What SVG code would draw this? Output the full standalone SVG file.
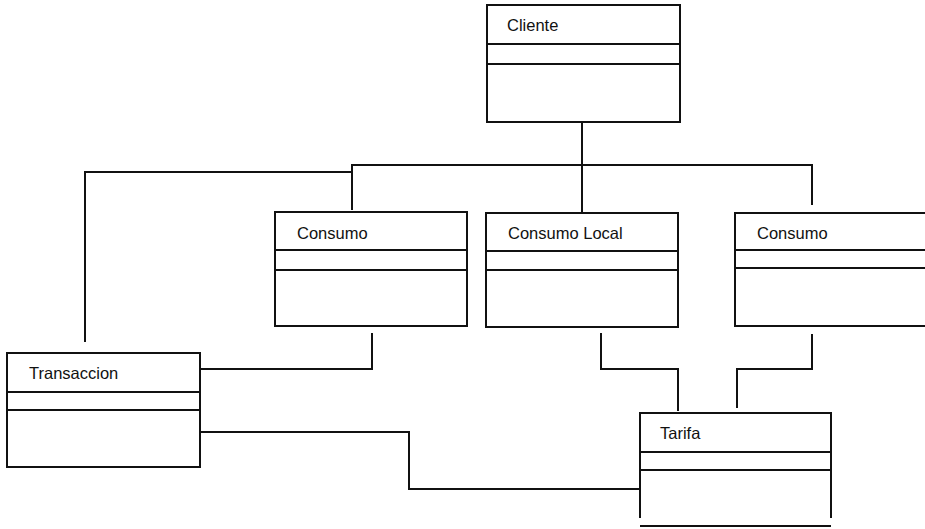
<svg xmlns="http://www.w3.org/2000/svg" width="925" height="529" viewBox="0 0 925 529">
<style>
.box{fill:#fff;stroke:#111;stroke-width:2}
.ln{fill:none;stroke:#111;stroke-width:2}
.t{font-family:"Liberation Sans",Arial,sans-serif;font-size:16.5px;fill:#111}
</style>
<rect width="925" height="529" fill="#fff"/>
<g id="connectors">
<polyline class="ln" points="582,122 582,165"/>
<polyline class="ln" points="85,342 85,172 352,172"/>
<polyline class="ln" points="352,210 352,165 812,165 812,205"/>
<polyline class="ln" points="582,165 582,212"/>
<polyline class="ln" points="372,333 372,369 200,369"/>
<polyline class="ln" points="200,432 409,432 409,489 640,489"/>
<polyline class="ln" points="601,333 601,369 678,369 678,411"/>
<polyline class="ln" points="812,334 812,369 737,369 737,408"/>
</g>
<g id="cliente">
<rect class="box" x="487" y="5" width="193" height="117"/>
<line class="ln" x1="487" y1="44" x2="680" y2="44"/>
<line class="ln" x1="487" y1="64" x2="680" y2="64"/>
<text class="t" x="507" y="31">Cliente</text>
</g>
<g id="consumo1">
<rect class="box" x="275" y="212" width="192" height="114"/>
<line class="ln" x1="275" y1="250" x2="467" y2="250"/>
<line class="ln" x1="275" y1="270" x2="467" y2="270"/>
<text class="t" x="297" y="239">Consumo</text>
</g>
<g id="consumo-local">
<rect class="box" x="486" y="213" width="192" height="114"/>
<line class="ln" x1="486" y1="251" x2="678" y2="251"/>
<line class="ln" x1="486" y1="270" x2="678" y2="270"/>
<text class="t" x="508" y="239">Consumo Local</text>
</g>
<g id="consumo2">
<rect class="box" x="735" y="213" width="200" height="113"/>
<line class="ln" x1="735" y1="250" x2="925" y2="250"/>
<line class="ln" x1="735" y1="268" x2="925" y2="268"/>
<text class="t" x="757" y="239">Consumo</text>
</g>
<g id="transaccion">
<rect class="box" x="7" y="353" width="193" height="114"/>
<line class="ln" x1="7" y1="392" x2="200" y2="392"/>
<line class="ln" x1="7" y1="410" x2="200" y2="410"/>
<text class="t" x="29" y="379">Transaccion</text>
</g>
<g id="tarifa">
<polyline class="box" points="640,518 640,413 831,413 831,518"/>
<line class="ln" x1="640" y1="452" x2="831" y2="452"/>
<line class="ln" x1="640" y1="470" x2="831" y2="470"/>
<line class="ln" x1="640" y1="526" x2="831" y2="526"/>
<text class="t" x="660" y="439">Tarifa</text>
</g>
</svg>
